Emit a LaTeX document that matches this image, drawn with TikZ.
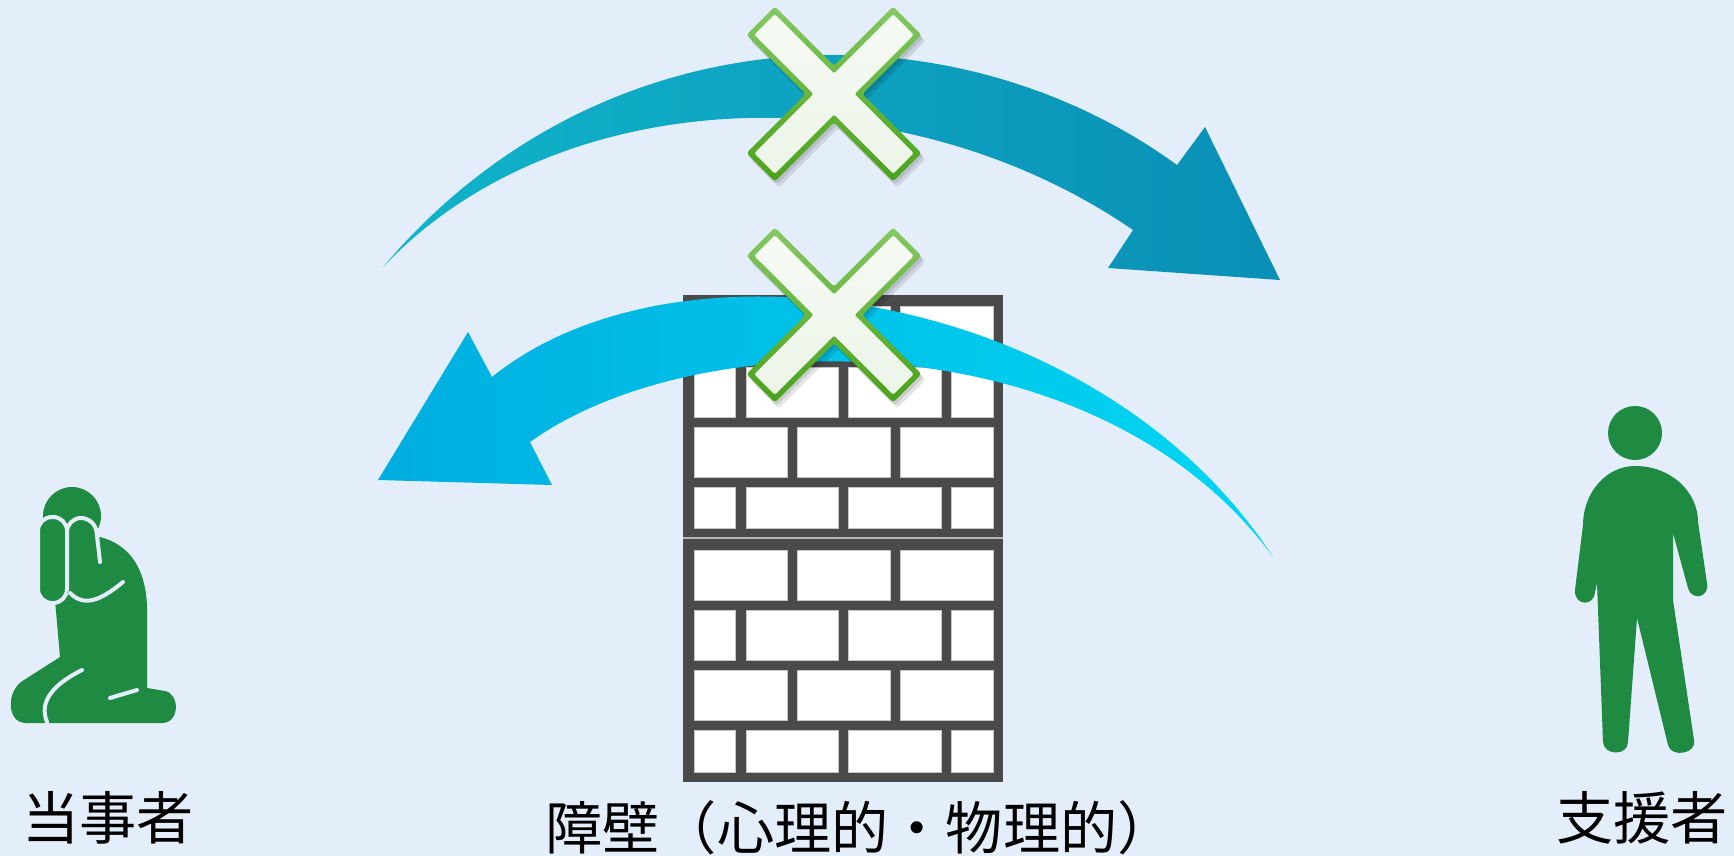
\documentclass[tikz,border=0pt]{standalone}
\usepackage{fontspec}
\newfontfamily\jpfont{Noto Sans CJK JP}
\usetikzlibrary{positioning}

\definecolor{bg}{RGB}{228,238,250}
\definecolor{figgreen}{RGB}{31,138,66}
\definecolor{mortar}{RGB}{74,74,74}
\definecolor{seam}{RGB}{180,180,180}
\definecolor{topL}{RGB}{16,180,202}
\definecolor{topR}{RGB}{10,143,182}
\definecolor{botL}{RGB}{0,174,224}
\definecolor{botR}{RGB}{0,214,242}
\definecolor{ngtop}{RGB}{132,200,98}
\definecolor{ngbot}{RGB}{74,162,26}
\definecolor{ngfill}{RGB}{236,245,232}

% cross outline: notch distance, arm corner offsets
\newcommand{\xshape}[3]{(0,#1) -- (#2,#3) -- (#3,#2) -- (#1,0) -- (#3,-#2) -- (#2,-#3) -- (0,-#1) -- (-#2,-#3) -- (-#3,-#2) -- (-#1,0) -- (-#3,#2) -- (-#2,#3) -- cycle}

\tikzset{
  nametext/.style={font=\jpfont\fontsize{28.6pt}{32pt}\selectfont, inner sep=0pt, text=black},
  brick/.style={fill=white, draw=black!22, line width=.4pt},
  gap/.style={draw=bg, line width=2pt, line cap=round},
  ngmark/.pic={
    \fill[black, opacity=.1, rounded corners=1.5pt, shift={(2,3)}] \xshape{28.28}{59.18}{87.5};
    \fill[black, opacity=.1, rounded corners=1.5pt, shift={(4,6)}] \xshape{28.28}{59.18}{87.5};
    \shade[top color=ngtop, bottom color=ngbot, rounded corners=1.5pt] \xshape{28.28}{59.18}{87.5};
    \shade[top color=ngfill!50!white, bottom color=ngfill, rounded corners=1pt] \xshape{20.5}{59.18}{79.69};
  }
}

\begin{document}
\begin{tikzpicture}[x=0.5pt,y=-0.5pt]
\fill[bg] (0,0) rectangle (1734,856);
\useasboundingbox (0,0) rectangle (1734,856);

% help going over the wall
\shade[left color=topL, right color=topR]
  (383,267) .. controls (600,10) and (950,0) .. (1177,165)
  -- (1205,127) -- (1280,280) -- (1108,268) -- (1133,230)
  .. controls (900,70) and (560,80) .. (383,267) -- cycle;

% wall
\fill[mortar] (683,295) rectangle (1003,782);
\draw[seam, line width=1pt] (683,538) -- (1003,538);
\foreach \ya/\yb in {306/357, 427/477, 550/600, 670/720}
  \foreach \xa/\xb in {694/787, 797/890, 900/993}
    \path[brick] (\xa,\ya) rectangle (\xb,\yb);
\foreach \ya/\yb in {367/417, 487/528, 610/660, 730/772}
  \foreach \xa/\xb in {694/735, 746/838, 848/941, 951/993}
    \path[brick] (\xa,\ya) rectangle (\xb,\yb);

% call for help coming back
\shade[left color=botL, right color=botR]
  (1273,557) .. controls (1100,290) and (680,225) .. (492,377)
  -- (468,332) -- (378,480) -- (552,485) -- (530,442)
  .. controls (700,320) and (1100,320) .. (1273,557) -- cycle;

\pic (ngup) at (834,94) {ngmark};
\pic (ngdown) at (834,315) {ngmark};

% kneeling person
\fill[figgreen] (100,537) .. controls (127,544) and (145,565) .. (147,605) -- (147,688)
  -- (165,691) .. controls (180,694) and (180,723) .. (162,723) -- (26,723)
  .. controls (6,723) and (6,690) .. (24,680) -- (60,657) -- (55,600) -- cycle;
\fill[figgreen] (72,516) circle (29);
\filldraw[fill=figgreen, draw=bg, line width=2pt, rounded corners=7pt] (38,517) rectangle (67,603);
\fill[figgreen, rounded corners=7pt] (67,603) -- (67,518) -- (95,518) -- (102,600) -- cycle;
\draw[gap, rounded corners=7pt] (67,590) -- (67,518) -- (95,518) -- (100,562);
\draw[gap] (70,593) .. controls (84,607) and (100,601) .. (123,582);
\draw[gap] (82,670) .. controls (56,683) and (38,700) .. (47,722);
\draw[gap] (110,698) -- (137,690);

% standing person
\fill[figgreen] (1635,433) circle (27);
\fill[figgreen] (1635,466) .. controls (1606,466) and (1583,493) .. (1583,525)
  -- (1575,590) .. controls (1574,606) and (1594,607) .. (1595,592)
  -- (1597,583) -- (1603,742) .. controls (1604,756) and (1628,756) .. (1628,742)
  -- (1637,618) -- (1668,745) .. controls (1671,758) and (1697,754) .. (1694,740)
  -- (1673,600) -- (1673,533) -- (1688,588) .. controls (1691,601) and (1710,598) .. (1707,583)
  -- (1698,522) .. controls (1698,491) and (1670,466) .. (1635,466) -- cycle;

\node[nametext] (client) at (108,818) {当事者};
\node[nametext] (supporter) at (1642,818) {支援者};
\node[nametext] (barrier) at (860,828) {障壁（心理的・物理的）};
\end{tikzpicture}
\end{document}
